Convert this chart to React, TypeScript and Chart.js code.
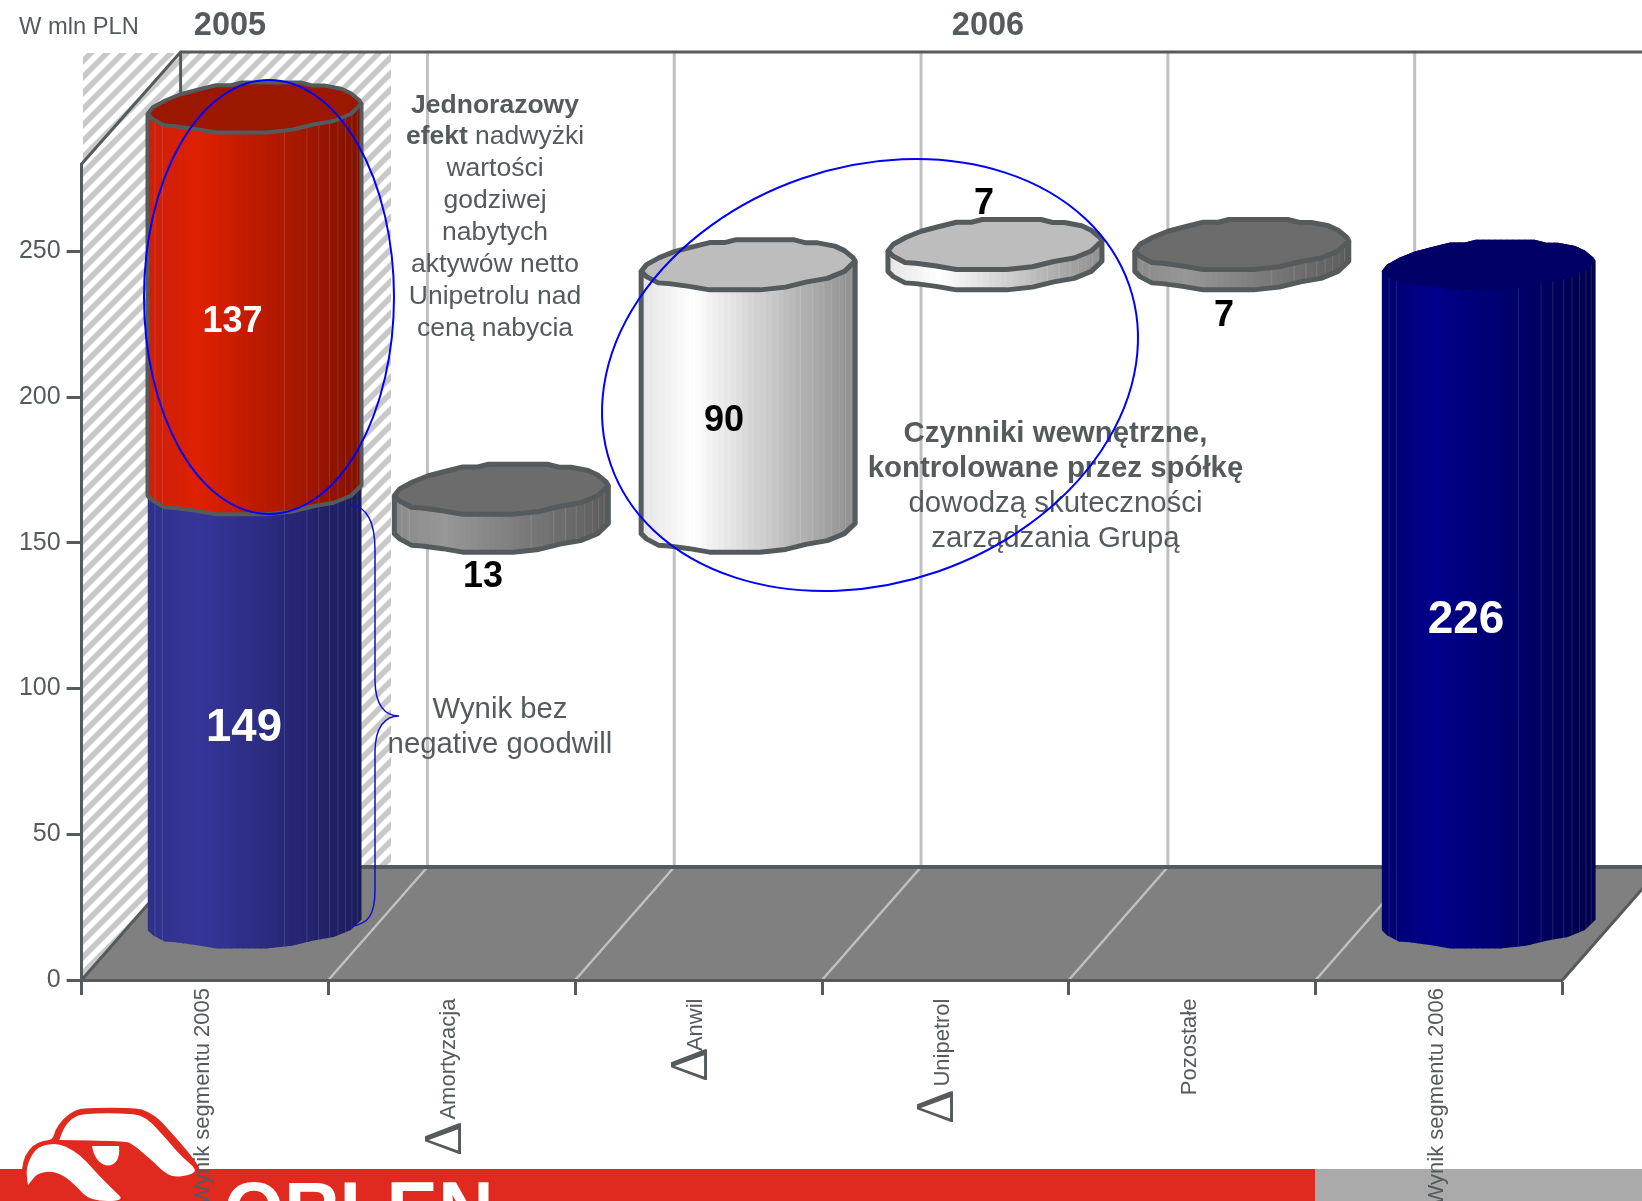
import React, { useEffect, useRef } from "react";
import { Chart, registerables } from "chart.js";

Chart.register(...registerables);

// ---- data ----
const categories = ["Wynik segmentu 2005", "Amortyzacja", "Anwil", "Unipetrol", "Pozostałe", "Wynik segmentu 2006"];
const yTickValues = [0, 50, 100, 150, 200, 250];
const yAxisMax = 280;
const barStarts = [0, 136, 136, 226, 226, 0];
const barEnds = [149, 149, 226, 233, 233, 226];
const oneOffStart = [149, null, null, null, null, null];
const oneOffEnd = [286, null, null, null, null, null];
const barLabels = ["149", "13", "90", "7", "7", "226"];
const oneOffLabels = ["137"];

// ---- style tables ----
const INK = "#555a5c";
const FONT = '"Liberation Sans", Arial, sans-serif';
const DX = 99;
const DY = 113;
const RY = 25;
type Look = { c0: string; c1: string; c2: string; cap: string; edge: number };
const BLUE: Look = { c0: "#30308a", c1: "#36369a", c2: "#1c1c5c", cap: "#23236b", edge: 0 };
const RED: Look = { c0: "#cc200a", c1: "#de2000", c2: "#801200", cap: "#9c1700", edge: 4 };
const GREY: Look = { c0: "#8a8a8a", c1: "#979797", c2: "#5c5c5c", cap: "#6c6c6c", edge: 5 };
const PALE: Look = { c0: "#e4e4e4", c1: "#ffffff", c2: "#8e8e8e", cap: "#bdbdbd", edge: 5 };
const NAVY: Look = { c0: "#00006e", c1: "#00008a", c2: "#00004c", cap: "#000066", edge: 0 };
const looks = [BLUE, GREY, PALE, PALE, GREY, NAVY];

// outline of a cap, normalised to -1..1 (picked from the wobbly polygon of the source)
const capUpper: number[][] = [
  [-1, 0.26], [-0.95, -0.01], [-0.83, -0.29], [-0.69, -0.53], [-0.53, -0.71], [-0.36, -0.89], [-0.22, -0.89],
  [-0.12, -1], [0.43, -1], [0.54, -0.88], [0.65, -0.88], [0.81, -0.75], [0.9, -0.57], [0.98, -0.29], [1, -0.15],
];
const capLower: number[][] = [
  [1, -0.15], [0.9, 0.26], [0.74, 0.54], [0.55, 0.68], [0.35, 0.89], [0.11, 1], [-0.36, 1], [-0.55, 0.86],
  [-0.74, 0.75], [-0.84, 0.72], [-0.95, 0.47], [-1, 0.26],
];
const facetLines = [-0.93, -0.86, 0.28, 0.49, 0.6, 0.7, 0.78, 0.85, 0.91, 0.96];

function hex(c: string) {
  return [1, 3, 5].map((i) => parseInt(c.slice(i, i + 2), 16));
}
function shade(l: Look, t: number) {
  const peak = 0.24;
  const [a, b, k] = t < peak ? [l.c0, l.c1, t / peak] : [l.c1, l.c2, (t - peak) / (1 - peak)];
  const A = hex(a as string);
  const B = hex(b as string);
  const K = k as number;
  return `rgb(${A.map((v, i) => Math.round(v + (B[i] - v) * K)).join(",")})`;
}

function drawCylinder(ctx: CanvasRenderingContext2D, cx: number, rx: number, yTop: number, yBot: number, l: Look) {
  const P = (p: number[], y: number): [number, number] => [cx + p[0] * rx, y + p[1] * RY];
  const body = () => {
    ctx.beginPath();
    ctx.moveTo(...P(capUpper[0], yTop));
    capUpper.forEach((p) => ctx.lineTo(...P(p, yTop)));
    capLower.forEach((p) => ctx.lineTo(...P(p, yBot)));
    ctx.closePath();
  };
  ctx.save();
  body();
  ctx.clip();
  const n = 36;
  const top = yTop - RY - 2;
  const h = yBot + RY + 2 - top;
  for (let i = 0; i < n; i++) {
    const t = i / n;
    ctx.fillStyle = shade(l, t + 0.5 / n);
    ctx.fillRect(cx - rx + t * 2 * rx, top, (2 * rx) / n + 1, h);
  }
  ctx.strokeStyle = "rgba(255,255,255,0.12)";
  ctx.lineWidth = 1;
  facetLines.forEach((u) => {
    ctx.beginPath();
    ctx.moveTo(cx + u * rx, top);
    ctx.lineTo(cx + u * rx, top + h);
    ctx.stroke();
  });
  ctx.restore();

  ctx.lineJoin = "round";
  ctx.beginPath();
  capUpper.forEach((p, i) => (i ? ctx.lineTo(...P(p, yTop)) : ctx.moveTo(...P(p, yTop))));
  capLower.forEach((p) => ctx.lineTo(...P(p, yTop)));
  ctx.closePath();
  ctx.fillStyle = l.cap;
  ctx.fill();
  if (l.edge) {
    ctx.strokeStyle = INK;
    ctx.lineWidth = l.edge;
    ctx.stroke();
    ctx.beginPath();
    ctx.moveTo(...P(capUpper[capUpper.length - 1], yTop));
    capLower.forEach((p) => ctx.lineTo(...P(p, yBot)));
    ctx.lineTo(...P(capLower[capLower.length - 1], yTop));
    ctx.stroke();
  }
}

function smooth(ctx: CanvasRenderingContext2D, pts: number[][], ox: number, oy: number, k: number, fill: string) {
  const M = (p: number[]) => [ox + p[0] / k, oy + p[1] / k];
  ctx.beginPath();
  const s = M(pts[0]);
  ctx.moveTo(s[0], s[1]);
  for (let i = 1; i < pts.length - 1; i++) {
    const a = M(pts[i]);
    const b = M(pts[i + 1]);
    ctx.quadraticCurveTo(a[0], a[1], (a[0] + b[0]) / 2, (a[1] + b[1]) / 2);
  }
  const e = M(pts[pts.length - 1]);
  ctx.lineTo(e[0], e[1]);
  ctx.closePath();
  ctx.fillStyle = fill;
  ctx.fill();
}

function drawLogo(ctx: CanvasRenderingContext2D) {
  ctx.fillStyle = "#e02a1f";
  ctx.fillRect(0, 1169, 1315, 32);
  ctx.fillStyle = "#aaaaaa";
  ctx.fillRect(1315, 1169, 327, 32);
  const red = "#e02a1f";
  smooth(ctx, [[65, 260], [65, 237], [75, 195], [100, 165], [130, 152], [158, 150], [165, 120], [190, 85], [225, 60], [260, 53], [410, 53], [445, 65], [480, 90], [520, 135], [560, 180], [600, 232], [600, 260]], 0, 1090, 3, red);
  smooth(ctx, [[178, 150], [190, 115], [215, 85], [250, 70], [400, 70], [440, 85], [470, 115], [510, 160], [545, 200], [592, 240], [570, 255], [520, 262], [490, 245], [460, 215], [430, 190], [395, 160], [370, 153], [178, 150]], 0, 1090, 3, "#fff");
  smooth(ctx, [[84, 285], [78, 250], [85, 215], [105, 180], [130, 165], [175, 160], [220, 180], [260, 215], [300, 260], [340, 300], [375, 333], [270, 333], [230, 290], [190, 255], [150, 243], [115, 250], [100, 265], [84, 285]], 0, 1090, 3, "#fff");
  ctx.beginPath();
  ctx.moveTo(92, 1146);
  ctx.lineTo(119, 1146);
  ctx.bezierCurveTo(122, 1172, 96, 1172, 92, 1146);
  ctx.closePath();
  ctx.fillStyle = "#fff";
  ctx.fill();
  ctx.save();
  ctx.beginPath();
  ctx.rect(0, 1169, 1642, 32);
  ctx.clip();
  ctx.fillStyle = "#fff";
  ctx.font = `bold 77px ${FONT}`;
  ctx.textAlign = "left";
  ctx.textBaseline = "alphabetic";
  ctx.fillText("ORLEN", 224, 1236);
  ctx.restore();
}

const backdrop = {
  id: "backdrop",
  beforeDraw(chart: any) {
    const { ctx, chartArea: a } = chart;
    const backTop = a.top - DY + 1;
    const floorY = a.bottom - DY;
    ctx.save();
    ctx.fillStyle = "#fff";
    ctx.fillRect(0, 0, chart.width, chart.height);
    drawLogo(ctx);

    // hatched 2005 panel
    ctx.save();
    ctx.beginPath();
    ctx.moveTo(83, backTop + 1);
    ctx.lineTo(391, backTop + 1);
    ctx.lineTo(391, floorY);
    ctx.lineTo(a.left + DX, floorY);
    ctx.lineTo(a.left + 1, a.bottom - 2);
    ctx.closePath();
    ctx.clip();
    ctx.strokeStyle = "#c8c8c8";
    ctx.lineWidth = 5.5;
    for (let c = 0; c < 1500; c += 16) {
      ctx.beginPath();
      ctx.moveTo(c, 0);
      ctx.lineTo(c - 1000, 1000);
      ctx.stroke();
    }
    ctx.restore();

    // wall grid, floor
    ctx.strokeStyle = "#c0c0c0";
    ctx.lineWidth = 3;
    const edges: number[] = [];
    for (let i = 0; i <= categories.length; i++) edges.push(a.left + (i * (a.right - a.left)) / categories.length);
    edges.slice(1, -1).forEach((e) => {
      ctx.beginPath();
      ctx.moveTo(e + DX, backTop);
      ctx.lineTo(e + DX, floorY);
      ctx.stroke();
    });
    ctx.beginPath();
    ctx.moveTo(a.left, a.bottom);
    ctx.lineTo(a.left + DX, floorY);
    ctx.lineTo(a.right + DX, floorY);
    ctx.lineTo(a.right, a.bottom);
    ctx.closePath();
    ctx.fillStyle = "#808080";
    ctx.fill();
    ctx.lineWidth = 2.5;
    edges.slice(1, -1).forEach((e) => {
      ctx.beginPath();
      ctx.moveTo(e, a.bottom);
      ctx.lineTo(e + DX, floorY);
      ctx.stroke();
    });

    // frame
    ctx.strokeStyle = INK;
    ctx.lineWidth = 3;
    ctx.beginPath();
    ctx.moveTo(a.left, a.top);
    ctx.lineTo(a.left + DX, backTop);
    ctx.lineTo(chart.width + 10, backTop);
    ctx.moveTo(a.left + DX, backTop);
    ctx.lineTo(a.left + DX, floorY);
    ctx.moveTo(a.left, a.bottom);
    ctx.lineTo(a.left + DX, floorY);
    ctx.moveTo(a.right, a.bottom);
    ctx.lineTo(a.right + DX, floorY);
    ctx.stroke();
    ctx.lineWidth = 4;
    ctx.beginPath();
    ctx.moveTo(a.left + DX, floorY);
    ctx.lineTo(a.right + DX, floorY);
    ctx.stroke();
    ctx.restore();
  },
  beforeDatasetDraw(chart: any, args: any) {
    const { ctx, chartArea: a } = chart;
    const y = chart.scales.y;
    const meta = chart.getDatasetMeta(args.index);
    const ds = chart.data.datasets[args.index];
    ctx.save();
    meta.data.forEach((el: any, i: number) => {
      const raw = ds.data[i];
      if (!raw) return;
      const top = Math.max(y.getPixelForValue(raw[1]), a.top) - DY / 2;
      const bot = y.getPixelForValue(raw[0]) - DY / 2;
      drawCylinder(ctx, el.x + DX / 2, el.width / 2, top, bot, ds.looks[i]);
    });
    ctx.restore();
    return false;
  },
  afterDraw(chart: any) {
    const { ctx } = chart;
    ctx.save();
    ctx.textBaseline = "middle";
    ctx.textAlign = "center";
    const put = (t: string, x: number, y: number, font: string, color: string) => {
      ctx.font = font;
      ctx.fillStyle = color;
      ctx.fillText(t, x, y);
    };
    const runs = (parts: [string, boolean][], x: number, y: number, size: number) => {
      ctx.textAlign = "left";
      let w = 0;
      parts.forEach(([t, b]) => {
        ctx.font = `${b ? "bold " : ""}${size}px ${FONT}`;
        w += ctx.measureText(t).width;
      });
      let cur = x - w / 2;
      ctx.fillStyle = INK;
      parts.forEach(([t, b]) => {
        ctx.font = `${b ? "bold " : ""}${size}px ${FONT}`;
        ctx.fillText(t, cur, y);
        cur += ctx.measureText(t).width;
      });
      ctx.textAlign = "center";
    };

    // headings
    ctx.textAlign = "left";
    put("W mln PLN", 19, 27, `23.7px ${FONT}`, INK);
    ctx.textAlign = "center";
    put("2005", 230, 26, `bold 32.5px ${FONT}`, INK);
    put("2006", 988, 26, `bold 32.5px ${FONT}`, INK);

    // value labels
    const W = "#ffffff";
    const K = "#000000";
    put(oneOffLabels[0], 232.5, 322, `bold 36px ${FONT}`, W);
    put(barLabels[0], 244, 728, `bold 45.5px ${FONT}`, W);
    put(barLabels[1], 483, 577, `bold 36px ${FONT}`, K);
    put(barLabels[2], 724, 421, `bold 36px ${FONT}`, K);
    put(barLabels[3], 984, 204, `bold 36px ${FONT}`, K);
    put(barLabels[4], 1224, 316, `bold 36px ${FONT}`, K);
    put(barLabels[5], 1466, 620, `bold 46px ${FONT}`, W);

    // notes
    const s1 = 26.5;
    runs([["Jednorazowy", true]], 495, 106, s1);
    runs([["efekt", true], [" nadwyżki", false]], 495, 137, s1);
    ["wartości", "godziwej", "nabytych", "aktywów netto", "Unipetrolu nad", "ceną nabycia"].forEach((t, i) =>
      runs([[t, false]], 495, [169, 201, 233, 265, 297, 329][i], s1)
    );
    const s2 = 29.4;
    runs([["Czynniki wewnętrzne,", true]], 1055.5, 434, s2);
    runs([["kontrolowane przez spółkę", true]], 1055.5, 469, s2);
    runs([["dowodzą skuteczności", false]], 1055.5, 504, s2);
    runs([["zarządzania Grupą", false]], 1055.5, 539, s2);
    runs([["Wynik bez", false]], 500, 710, 29.3);
    runs([["negative goodwill", false]], 500, 745, 29.3);

    // delta signs in front of the tick labels
    [[461, 1156], [707, 1082], [953, 1124]].forEach(([x, y]) => {
      ctx.save();
      ctx.translate(x, y);
      ctx.rotate(-Math.PI / 2);
      ctx.textAlign = "left";
      ctx.textBaseline = "alphabetic";
      ctx.font = '54px "Liberation Serif", serif';
      ctx.fillStyle = INK;
      ctx.fillText("Δ", 0, 0);
      ctx.restore();
    });

    // blue call-outs
    ctx.strokeStyle = "#0000ff";
    ctx.lineWidth = 2;
    ctx.beginPath();
    ctx.ellipse(269, 297, 125, 217, 0, 0, Math.PI * 2);
    ctx.stroke();
    ctx.beginPath();
    ctx.ellipse(870, 375, 274.3, 207.9, (-19.1 * Math.PI) / 180, 0, Math.PI * 2);
    ctx.stroke();
    ctx.lineWidth = 1.5;
    ctx.strokeStyle = "#1010d0";
    ctx.beginPath();
    ctx.moveTo(351, 505);
    ctx.bezierCurveTo(368, 507, 375, 525, 375, 550);
    ctx.lineTo(375, 680);
    ctx.bezierCurveTo(375, 705, 385, 716, 399, 716);
    ctx.bezierCurveTo(385, 716, 375, 727, 375, 752);
    ctx.lineTo(375, 890);
    ctx.bezierCurveTo(375, 915, 368, 924, 352, 926);
    ctx.stroke();
    ctx.restore();
  },
};

export default function App() {
  const ref = useRef<HTMLCanvasElement | null>(null);
  useEffect(() => {
    document.body.style.margin = "0";
    const chart = new Chart(ref.current as HTMLCanvasElement, {
      type: "bar",
      data: {
        labels: categories,
        datasets: [
          {
            label: "Jednorazowy efekt",
            data: oneOffStart.map((s, i) => (s === null ? null : [s, oneOffEnd[i]])),
            looks: [RED],
            backgroundColor: RED.c1,
          } as any,
          {
            label: "Wynik segmentu",
            data: barStarts.map((s, i) => [s, barEnds[i]]),
            looks,
            backgroundColor: looks.map((l) => l.c1),
          } as any,
        ],
      },
      plugins: [backdrop],
      options: {
        responsive: false,
        animation: false,
        events: [],
        layout: { padding: { top: 164, right: 79.5, left: 0, bottom: 0 } },
        plugins: { legend: { display: false }, tooltip: { enabled: false } },
        datasets: { bar: { categoryPercentage: 1, barPercentage: 0.867, grouped: false } as any },
        scales: {
          x: {
            grid: { drawOnChartArea: false, tickLength: 15, tickWidth: 3, tickColor: INK, offset: true },
            border: { color: INK, width: 3 },
            afterFit: (s: any) => {
              s.height = 221;
            },
            ticks: {
              autoSkip: false,
              minRotation: 90,
              maxRotation: 90,
              padding: -7,
              labelOffset: -2.5,
              color: INK,
              font: { family: FONT, size: 22 },
              callback: (_v: any, i: number) => categories[i] + (i >= 1 && i <= 4 ? " \u2009" : ""),
            },
          },
          y: {
            min: 0,
            max: yAxisMax,
            afterBuildTicks: (s: any) => {
              s.ticks = yTickValues.map((value) => ({ value }));
            },
            afterFit: (s: any) => {
              s.width = 81.6;
            },
            grid: { drawOnChartArea: false, tickLength: 15, tickWidth: 3, tickColor: INK },
            border: { color: INK, width: 3 },
            ticks: { padding: 6, color: INK, font: { family: FONT, size: 25 } },
          },
        },
      } as any,
    });
    return () => chart.destroy();
  }, []);
  return <canvas ref={ref} width={1642} height={1201} style={{ display: "block", width: 1642, height: 1201 }} />;
}
